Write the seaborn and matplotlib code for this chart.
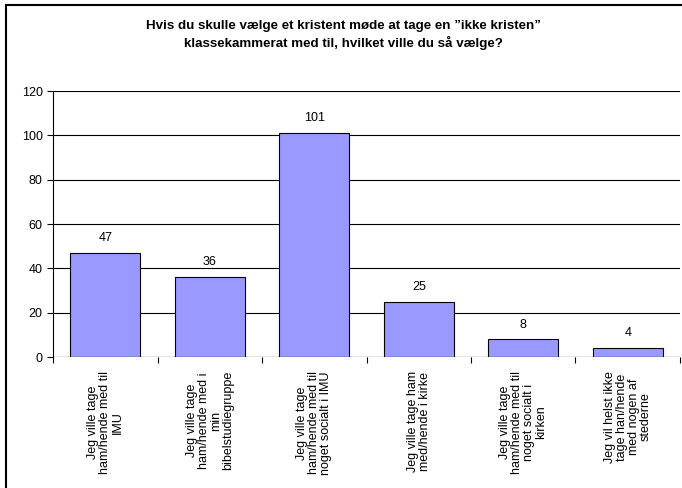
import numpy as np
import pandas as pd
import matplotlib
matplotlib.use("Agg")
import matplotlib.pyplot as plt
import seaborn as sns
from matplotlib.patches import Rectangle

categories = [
    "Jeg ville tage\nham/hende med til\nIMU",
    "Jeg ville tage\nham/hende med i\nmin\nbibelstudiegruppe",
    "Jeg ville tage\nham/hende med til\nnoget socialt i IMU",
    "Jeg ville tage ham\nmed/hende i kirke",
    "Jeg ville tage\nham/hende med til\nnoget socialt i\nkirken",
    "Jeg vil helst ikke\ntage han/hende\nmed nogen af\nstederne",
]
counts = [47, 36, 101, 25, 8, 4]
title = ("Hvis du skulle vælge et kristent møde at tage en \u201dikke kristen\u201d\n"
         "klassekammerat med til, hvilket ville du så vælge?")

sns.set_style("white")
plt.rcParams["font.family"] = ["Liberation Sans", "DejaVu Sans"]
plt.rcParams["text.color"] = "black"
plt.rcParams["xtick.color"] = "black"
plt.rcParams["ytick.color"] = "black"

df = pd.DataFrame({"category": categories, "count": counts})

fig = plt.figure(figsize=(6.82, 4.88), dpi=100)
ax = fig.add_axes([0.078, 0.268, 0.919, 0.5455])

sns.barplot(data=df, x="category", y="count", color="#9999FF",
            edgecolor="black", linewidth=0.8, width=0.67, saturation=1, ax=ax)

ax.set_ylim(0, 120)
ax.set_yticks(range(0, 121, 20))
ax.yaxis.grid(True, color="black", linewidth=0.8)
ax.set_axisbelow(True)
for s in ["top", "right", "bottom"]:
    ax.spines[s].set_visible(False)
ax.spines["left"].set_color("black")
ax.spines["left"].set_linewidth(0.8)
ax.axhline(0, color="black", linewidth=0.8)

ax.set_xlim(-0.5, len(categories) - 0.5)
ax.set_xticks(np.arange(-0.5, len(categories)), minor=True)
ax.tick_params(axis="x", which="major", length=0, pad=10)
ax.tick_params(axis="x", which="minor", length=4, width=0.8, color="black", direction="out", bottom=True)
ax.tick_params(axis="y", length=4, width=0.8, color="black", direction="out", left=True, labelsize=9)
ax.set_xticklabels(categories, rotation=90, fontsize=9, ha="center", va="top",
                   multialignment="center", linespacing=1.0)
ax.set_xlabel("")
ax.set_ylabel("")

for i, v in enumerate(counts):
    ax.text(i, v + 4, str(v), ha="center", va="bottom", fontsize=9)

fig.text(0.503, 0.958, title, ha="center", va="top", fontsize=9.6,
         fontweight="bold", linespacing=1.3)

fig.patches.append(Rectangle((6 / 682, -0.1), 2, 1.1 - 5 / 488, transform=fig.transFigure,
                             fill=False, edgecolor="black", linewidth=1.5))

fig.savefig("out.png", dpi=100)
